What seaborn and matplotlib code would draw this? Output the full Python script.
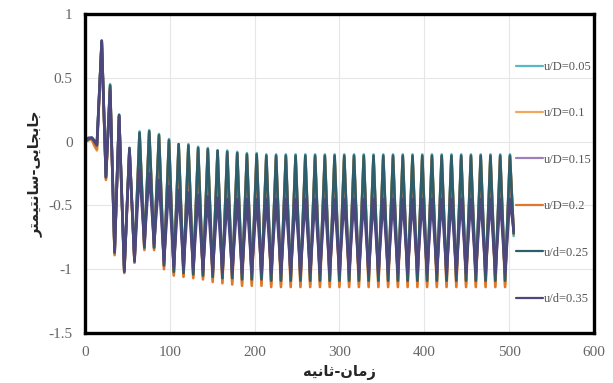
import matplotlib
matplotlib.use("Agg")
import matplotlib.pyplot as plt
import seaborn as sns
import pandas as pd

# ---------------- data ----------------
series_names = ["u/D=0.05", "u/D=0.1", "u/D=0.15", "u/D=0.2", "u/d=0.25", "u/d=0.35"]
series_colors = ["#56b9c4", "#f0a95c", "#9c80bb", "#e0772a", "#2e5d6c", "#4c477c"]

start_t = [0, 4, 8, 11, 14]
peak_t = [19.7, 29.6, 40.2, 52.4, 64.3, 75.7, 87.2, 99.0, 110.4, 121.9, 133.4,
          144.8, 156.3, 167.7, 179.5, 190.9, 202.4, 213.8, 225.3, 236.8, 248.3,
          259.8, 271.3, 282.8, 294.3, 305.7, 317.2, 328.7, 340.2, 351.7, 363.2,
          374.7, 386.2, 397.7, 409.1, 420.6, 432.1, 443.6, 455.1, 466.6, 478.1,
          489.6, 501.1]
end_t = 505.5

start_vals = {
    "u/D=0.05": [0.0, 0.02, 0.03, 0.0, -0.03],
    "u/D=0.1": [0.0, 0.02, 0.02, -0.03, -0.07],
    "u/D=0.15": [0.0, 0.02, 0.03, 0.0, -0.03],
    "u/D=0.2": [0.0, 0.01, 0.02, -0.03, -0.06],
    "u/d=0.25": [0.0, 0.02, 0.03, 0.0, -0.03],
    "u/d=0.35": [0.01, 0.03, 0.03, 0.01, -0.02],
}
peak_vals = {
    "u/D=0.05": [0.79, 0.45, 0.21, -0.05, 0.08, 0.09, 0.06, 0.02, -0.02, -0.02, -0.04, -0.05, -0.07, -0.07, -0.08, -0.09, -0.09, -0.10] + [-0.10] * 25,
    "u/D=0.1": [0.78, 0.43, 0.20, -0.06, 0.06, 0.07, 0.04, 0.00, -0.03, -0.04, -0.06, -0.07, -0.08, -0.09, -0.10, -0.11, -0.11, -0.12] + [-0.12] * 25,
    "u/D=0.15": [0.78, 0.42, 0.20, -0.06, -0.08, -0.10, -0.14, -0.18, -0.21, -0.24, -0.26, -0.27, -0.28, -0.29, -0.30, -0.30, -0.30, -0.30] + [-0.30] * 25,
    "u/D=0.2": [0.78, 0.43, 0.20, -0.06, 0.05, 0.06, 0.03, -0.01, -0.04, -0.05, -0.07, -0.08, -0.09, -0.10, -0.11, -0.12, -0.12, -0.13] + [-0.13] * 25,
    "u/d=0.25": [0.79, 0.44, 0.21, -0.05, 0.07, 0.08, 0.05, 0.01, -0.02, -0.03, -0.05, -0.06, -0.07, -0.08, -0.09, -0.10, -0.10, -0.11] + [-0.11] * 25,
    "u/d=0.35": [0.79, 0.40, 0.20, -0.07, -0.22, -0.25, -0.30, -0.35, -0.38, -0.40, -0.42, -0.43, -0.44, -0.45, -0.45, -0.45, -0.45, -0.45] + [-0.45] * 25,
}
trough_vals = {
    "u/D=0.05": [-0.28, -0.86, -1.00, -0.92, -0.82, -0.82, -0.96, -1.01, -1.02, -1.03, -1.04, -1.05, -1.06, -1.06, -1.07, -1.07, -1.07, -1.08] + [-1.08] * 24,
    "u/D=0.1": [-0.29, -0.88, -1.02, -0.94, -0.84, -0.84, -0.98, -1.04, -1.05, -1.06, -1.07, -1.08, -1.09, -1.10, -1.11, -1.11, -1.11, -1.12] + [-1.12] * 24,
    "u/D=0.15": [-0.28, -0.87, -1.01, -0.93, -0.83, -0.83, -0.96, -1.00, -1.01, -1.02, -1.03, -1.04, -1.04, -1.05, -1.05, -1.05, -1.05, -1.05] + [-1.05] * 24,
    "u/D=0.2": [-0.30, -0.89, -1.03, -0.95, -0.85, -0.85, -1.00, -1.05, -1.06, -1.07, -1.08, -1.10, -1.11, -1.12, -1.13, -1.13, -1.13, -1.14] + [-1.14] * 24,
    "u/d=0.25": [-0.28, -0.87, -1.01, -0.93, -0.83, -0.83, -0.97, -1.02, -1.03, -1.04, -1.05, -1.06, -1.07, -1.07, -1.08, -1.08, -1.08, -1.09] + [-1.09] * 24,
    "u/d=0.35": [-0.27, -0.86, -1.02, -0.94, -0.80, -0.80, -0.94, -0.98, -0.99, -1.00, -1.01, -1.02, -1.02, -1.03, -1.03, -1.03, -1.03, -1.03] + [-1.03] * 24,
}
end_vals = {"u/D=0.05": -0.74, "u/D=0.1": -0.72, "u/D=0.15": -0.70,
            "u/D=0.2": -0.72, "u/d=0.25": -0.72, "u/d=0.35": -0.70}

x_ticks = [0, 100, 200, 300, 400, 500, 600]
y_ticks = [-1.5, -1, -0.5, 0, 0.5, 1]
y_tick_labels = ["-1.5", "-1", "-0.5", "0", "0.5", "1"]
x_label = "زمان-ثانیه"
y_label = "جابجایی-سانتیمتر"

# ---------------- simple Persian shaping for matplotlib ----------------
FORMS = {  # isolated, final, initial, medial
    "ا": ("\uFE8D", "\uFE8E", None, None),
    "ب": ("\uFE8F", "\uFE90", "\uFE91", "\uFE92"),
    "ت": ("\uFE95", "\uFE96", "\uFE97", "\uFE98"),
    "ث": ("\uFE99", "\uFE9A", "\uFE9B", "\uFE9C"),
    "ج": ("\uFE9D", "\uFE9E", "\uFE9F", "\uFEA0"),
    "ر": ("\uFEAD", "\uFEAE", None, None),
    "ز": ("\uFEAF", "\uFEB0", None, None),
    "س": ("\uFEB1", "\uFEB2", "\uFEB3", "\uFEB4"),
    "م": ("\uFEE1", "\uFEE2", "\uFEE3", "\uFEE4"),
    "ن": ("\uFEE5", "\uFEE6", "\uFEE7", "\uFEE8"),
    "ه": ("\uFEE9", "\uFEEA", "\uFEEB", "\uFEEC"),
    "ی": ("\uFBFC", "\uFBFD", "\uFBFE", "\uFBFF"),
}


def shape(text):
    out = []
    n = len(text)
    for i, ch in enumerate(text):
        if ch not in FORMS:
            out.append(ch)
            continue
        prev = text[i - 1] if i > 0 else None
        nxt = text[i + 1] if i < n - 1 else None
        join_prev = prev in FORMS and FORMS[prev][2] is not None
        join_next = nxt in FORMS and FORMS[ch][2] is not None
        iso, fin, ini, med = FORMS[ch]
        if join_prev and join_next:
            out.append(med)
        elif join_prev:
            out.append(fin)
        elif join_next:
            out.append(ini)
        else:
            out.append(iso)
    return "".join(reversed(out))


# ---------------- build long table ----------------
rows = []
for name in series_names:
    ts = list(start_t)
    ys = list(start_vals[name])
    pk = peak_vals[name]
    tr = trough_vals[name]
    for i, tp in enumerate(peak_t):
        ts.append(tp)
        ys.append(pk[i])
        if i < len(peak_t) - 1:
            ts.append((tp + peak_t[i + 1]) / 2.0)
            ys.append(tr[i])
    ts.append(end_t)
    ys.append(end_vals[name])
    for t, y in zip(ts, ys):
        rows.append({"t": t, "y": y, "series": name})
df = pd.DataFrame(rows)

# ---------------- plot ----------------
sns.set_theme(style="white")
plt.rcParams["font.family"] = ["Liberation Serif", "DejaVu Sans"]

fig = plt.figure(figsize=(6.13, 3.83), dpi=100)
ax = fig.add_axes([0.1387, 0.1305, 0.830, 0.833])

sns.lineplot(data=df, x="t", y="y", hue="series", hue_order=series_names,
             palette=series_colors, sort=False, estimator=None, linewidth=1.9,
             ax=ax)

ax.set_xlim(0, 600)
ax.set_ylim(-1.5, 1)
ax.set_xticks(x_ticks)
ax.set_yticks(y_ticks)
ax.set_yticklabels(y_tick_labels)
ax.grid(True, color="#e6e6e6", linewidth=0.8)
ax.set_axisbelow(True)
ax.tick_params(axis="both", length=0, labelsize=11, labelcolor="#666666")
ax.tick_params(axis="x", pad=9)
ax.tick_params(axis="y", pad=9)
for sp in ax.spines.values():
    sp.set_visible(True)
    sp.set_color("black")
    sp.set_linewidth(2.4)
    sp.set_zorder(10)

ax.set_xlabel(shape(x_label), fontsize=10.5, fontweight="bold",
              family="DejaVu Sans", labelpad=5)
ax.set_ylabel(shape(y_label), fontsize=10.5, fontweight="bold",
              family="DejaVu Sans", labelpad=4)

leg = ax.legend(loc="upper left", bbox_to_anchor=(0.837, 0.868), frameon=False,
                fontsize=9, labelspacing=2.75, handlelength=2.16,
                handletextpad=0.05, borderaxespad=0)
for txt in leg.get_texts():
    txt.set_color("#555555")
    txt.set_clip_box(ax.bbox)
    txt.set_clip_on(True)
for line in leg.get_lines():
    line.set_linewidth(1.6)

fig.savefig("out.png", dpi=100)
